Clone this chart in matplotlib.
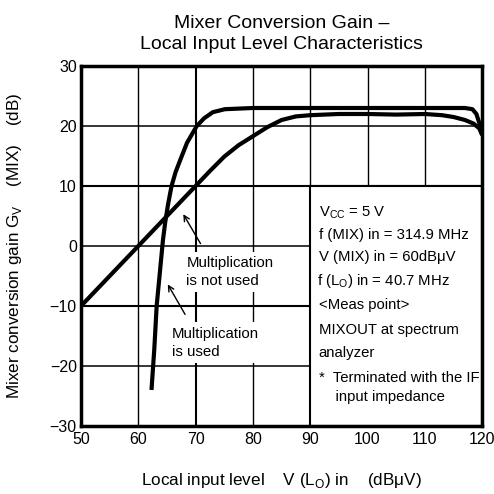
import matplotlib
matplotlib.use("Agg")
import matplotlib.pyplot as plt
from matplotlib.patches import Rectangle

plt.rcParams['font.family'] = ['Liberation Sans', 'DejaVu Sans']
plt.rcParams['mathtext.fontset'] = 'custom'
plt.rcParams['mathtext.rm'] = 'Liberation Sans'

# multiplication not used (straight line, then saturates)
x_not_used = [50, 55, 60, 65, 70, 72.5, 75, 77.5, 80, 82.5, 85, 87.5, 90, 95, 100, 105, 110, 113, 115, 117, 118.5, 119.5, 120]
y_not_used = [-10, -5, 0, 5, 10, 12.5, 14.9, 16.8, 18.3, 19.8, 21.0, 21.6, 21.8, 22.0, 22.0, 21.9, 22.0, 21.8, 21.5, 21.0, 20.4, 19.6, 18.5]

# multiplication used (steep rise, flat top)
x_used = [62.3, 62.8, 63.2, 63.7, 64.3, 64.7, 65.2, 65.8, 66.5, 67.3, 68.5, 70.2, 71.5, 73.0, 75.1, 80, 90, 100, 110, 117, 118.3, 119, 119.5, 120]
y_used = [-24, -17, -10, -5, 1, 4, 7, 10, 12.3, 14.3, 17.2, 20.0, 21.3, 22.3, 22.8, 23, 23, 23, 23, 23, 22.8, 22.0, 20.5, 18.5]

xticks = [50, 60, 70, 80, 90, 100, 110, 120]
yticks = [-30, -20, -10, 0, 10, 20, 30]
ytick_labels = ['\u221230', '\u221220', '\u221210', '0', '10', '20', '30']

conditions = ['V$_\\mathregular{CC}$ = 5 V',
              'f (MIX) in = 314.9 MHz',
              'V (MIX) in = 60dB\u03bcV',
              'f (L$_\\mathregular{O}$) in = 40.7 MHz',
              '<Meas point>',
              'MIXOUT at spectrum',
              'analyzer',
              '*  Terminated with the IF',
              '    input impedance']
cond_y = [5.5, 1.8, -1.8, -5.8, -9.8, -14.0, -17.8, -22.0, -25.2]
cond_dx = [0, 0, 0, -0.35, 0, 0, 0, 0, 0]

fig = plt.figure(figsize=(4.94, 4.94), dpi=100)
ax = fig.add_axes([0.164, 0.1377, 0.812, 0.7287])
ax.set_xlim(50, 120)
ax.set_ylim(-30, 30)

# grid
for xv in xticks[1:-1]:
    ax.axvline(xv, color='black', lw=1.5 if xv == 70 else 1.0, zorder=1)
for yv in yticks[1:-1]:
    ax.axhline(yv, color='black', lw=1.5 if yv in (10, -10) else 1.1, zorder=1)

# condition box
ax.add_patch(Rectangle((90, -30), 30, 40, facecolor='white', edgecolor='black', lw=1.5, zorder=2))
for t, yy, dx in zip(conditions, cond_y, cond_dx):
    ax.text(91.5 + dx, yy, t, fontsize=10.7, va='center', ha='left', zorder=4)

ax.plot(x_not_used, y_not_used, color='black', lw=3, solid_capstyle='butt', zorder=3)
ax.plot(x_used, y_used, color='black', lw=3, solid_capstyle='butt', zorder=3)

ax.text(68.4, -4.3, 'Multiplication\nis not used', fontsize=10.8, va='center', ha='left',
        linespacing=1.35, zorder=2.5, bbox=dict(facecolor='white', edgecolor='none', pad=3))
ax.text(65.8, -16.1, 'Multiplication\nis used', fontsize=10.8, va='center', ha='left',
        linespacing=1.35, zorder=2.5, bbox=dict(facecolor='white', edgecolor='none', pad=3))

ax.annotate('', xy=(67.6, 5.7), xytext=(71.1, 0.0),
            arrowprops=dict(arrowstyle='->', color='black', lw=1.0), zorder=3)
ax.annotate('', xy=(64.9, -6.0), xytext=(68.4, -11.8),
            arrowprops=dict(arrowstyle='->', color='black', lw=1.0), zorder=3)

ax.set_xticks(xticks)
ax.set_yticks(yticks)
ax.set_yticklabels(ytick_labels)
ax.tick_params(length=0, labelsize=11.5)
ax.tick_params(axis='x', pad=4)
ax.tick_params(axis='y', pad=3)
for s in ax.spines.values():
    s.set_linewidth(2.5)
    s.set_zorder(5)

ax.set_xlabel('Local input level    V (L$_\\mathregular{O}$) in    (dB\u03bcV)', fontsize=12.3)
ax.xaxis.set_label_coords(0.5, -0.125)
ax.set_ylabel('Mixer conversion gain G$_\\mathregular{V}$    (MIX)    (dB)', fontsize=12.3)
ax.yaxis.set_label_coords(-0.142, 0.5)
ax.set_title('Mixer Conversion Gain \u2013\nLocal Input Level Characteristics', fontsize=14, pad=12, linespacing=1.3)

fig.savefig('out.png', dpi=100)
